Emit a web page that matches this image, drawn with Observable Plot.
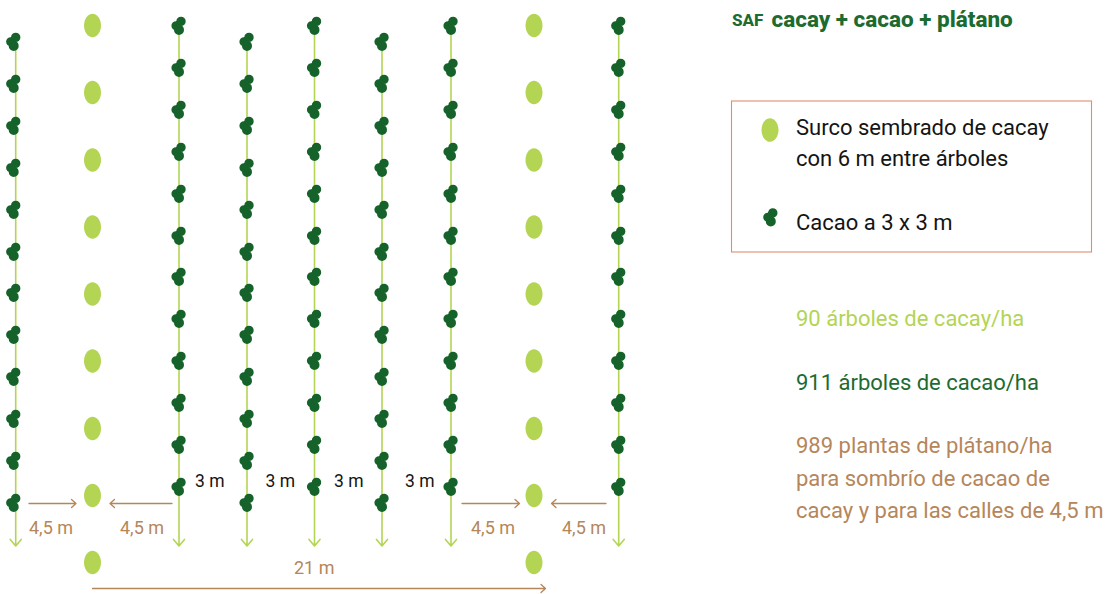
<!DOCTYPE html>
<html><head><meta charset="utf-8">
<style>html,body{margin:0;padding:0;background:#fff}svg{display:block}</style>
<script src="https://cdn.jsdelivr.net/npm/d3@7"></script>
<script src="https://cdn.jsdelivr.net/npm/@observablehq/plot@0.6"></script>
</head><body><div id="c"></div>
<script>
// Diagram coordinates (reference pixel space)
const rowX = [15.7, 179, 247, 314.5, 382, 451, 618.7];
const rowTop = [42, 26, 42, 26, 42, 26, 26];
const rowBottom = 546;
const glyphOffset = [-2, 0, 0, 0, 0, 0, 0];
const cacaoHigh = [26, 68, 110, 152, 194, 236, 277, 319, 361, 403, 445, 487];
const cacaoLow = [42, 84, 126, 168, 210, 252, 293, 335, 377, 419, 461, 503];
const cacayX = [92.5, 534];
const cacayY = [25.5, 92.5, 160, 227, 294, 361, 428.5, 495.5, 562.5];

const spacingArrows = [
  {x1: 29, x2: 76, y: 503.5}, {x1: 172, x2: 110, y: 503.5},
  {x1: 462, x2: 519.5, y: 503.5}, {x1: 606, x2: 551.5, y: 503.5},
  {x1: 92.5, x2: 545.5, y: 588.5}
];
const brownLabels = [
  {x: 29, y: 528, t: "4,5 m"}, {x: 120, y: 528, t: "4,5 m"},
  {x: 471, y: 528, t: "4,5 m"}, {x: 562, y: 528, t: "4,5 m"},
  {x: 294, y: 568, t: "21 m"}
];
const gapLabels = [
  {x: 195, y: 481, t: "3 m"}, {x: 265.5, y: 481, t: "3 m"},
  {x: 334, y: 481, t: "3 m"}, {x: 405, y: 481, t: "3 m"}
];
const legendText = [
  {y: 127.5, t: "Surco sembrado de cacay"},
  {y: 158.5, t: "con 6 m entre árboles"},
  {y: 222.5, t: "Cacao a 3 x 3 m"}
];
const statsLime = [{y: 318.5, t: "90 árboles de cacay/ha"}];
const statsGreen = [{y: 382.5, t: "911 árboles de cacao/ha"}];
const statsBrown = [
  {y: 446, t: "989 plantas de plátano/ha"},
  {y: 478.5, t: "para sombrío de cacao de"},
  {y: 510.5, t: "cacay y para las calles de 4,5 m"}
];

const lime = "#b3d553", green = "#15622a", brown = "#b5865a", titleGreen = "#1c6b30", ink = "#141414";
const font = "Roboto, 'Noto Sans', sans-serif";

const rows = rowX.map((x, i) => ({x, y1: rowTop[i], y2: rowBottom}));
const cacao = rowX.flatMap((x, i) =>
  (rowTop[i] === 26 ? cacaoHigh : cacaoLow).map(y => ({x: x + glyphOffset[i], y})));
const cacay = cacayX.flatMap(x => cacayY.map(y => ({x, y})));

const ellipseSym = {draw(ctx, size) {
  const k = Math.sqrt(size / Math.PI), a = k * 8.5, b = k * 11.8, c = 0.5523;
  ctx.moveTo(a, 0);
  ctx.bezierCurveTo(a, c * b, c * a, b, 0, b);
  ctx.bezierCurveTo(-c * a, b, -a, c * b, -a, 0);
  ctx.bezierCurveTo(-a, -c * b, -c * a, -b, 0, -b);
  ctx.bezierCurveTo(c * a, -b, a, -c * b, a, 0);
  ctx.closePath();
}};
const blob = (ctx, x, y, r) => { ctx.moveTo(x + r, y); ctx.arc(x, y, r, 0, 2 * Math.PI); ctx.closePath(); };
const cacaoSym = {draw(ctx, size) {
  const k = Math.sqrt(size / Math.PI);
  blob(ctx, 2.0 * k, -4.6 * k, 4.7 * k);
  blob(ctx, -3.0 * k, -0.2 * k, 4.6 * k);
  blob(ctx, 0, 3.9 * k, 5 * k);
  blob(ctx, -1 * k, -0.5 * k, 4.6 * k);
}};

const txt = (data, fill, size, x, extra = {}) => Plot.text(data, {
  x: x ?? "x", y: "y", text: "t", fill, fontSize: size, fontFamily: font,
  textAnchor: "start", lineAnchor: "middle", ...extra
});

const chart = Plot.plot({
  width: 1110, height: 594,
  margin: 0,
  style: {background: "#fff"},
  x: {domain: [0, 1110], range: [-0.5, 1109.5], axis: null},
  y: {domain: [0, 594], range: [-0.5, 593.5], axis: null},
  marks: [
    Plot.arrow(rows, {x1: "x", y1: "y1", x2: "x", y2: "y2", stroke: lime, strokeWidth: 1.6, headAngle: 80, headLength: 8}),
    Plot.dot(cacao, {x: "x", y: "y", r: 1, symbol: cacaoSym, fill: green, stroke: "none"}),
    Plot.dot(cacay, {x: "x", y: "y", r: 1, symbol: ellipseSym, fill: lime, stroke: "none"}),
    Plot.arrow(spacingArrows, {x1: "x1", y1: "y", x2: "x2", y2: "y", stroke: brown, strokeWidth: 1.3, headAngle: 85, headLength: 7}),
    txt(brownLabels, brown, 18),
    txt(gapLabels, ink, 17.5),
    Plot.rect([{}], {x1: () => 732, x2: () => 1092, y1: () => 101.5, y2: () => 252.5, fill: "none", stroke: "#dd8f6f", strokeWidth: 1.1}),
    Plot.dot([{x: 770, y: 130}], {x: "x", y: "y", r: 1, symbol: ellipseSym, fill: lime, stroke: "none"}),
    Plot.dot([{x: 770.8, y: 217.5}], {x: "x", y: "y", r: 1, symbol: cacaoSym, fill: green, stroke: "none"}),
    txt([{x: 732, y: 20.5, t: "SAF"}], titleGreen, 17, undefined, {fontWeight: 800}),
    txt([{x: 771.5, y: 19.5, t: "cacay + cacao + plátano"}], titleGreen, 22.5, undefined, {fontWeight: 800}),
    txt(legendText, ink, 22, () => 796),
    txt(statsLime, lime, 22, () => 796),
    txt(statsGreen, titleGreen, 22, () => 796),
    txt(statsBrown, brown, 22, () => 796)
  ]
});
document.getElementById("c").append(chart);
</script></body></html>
